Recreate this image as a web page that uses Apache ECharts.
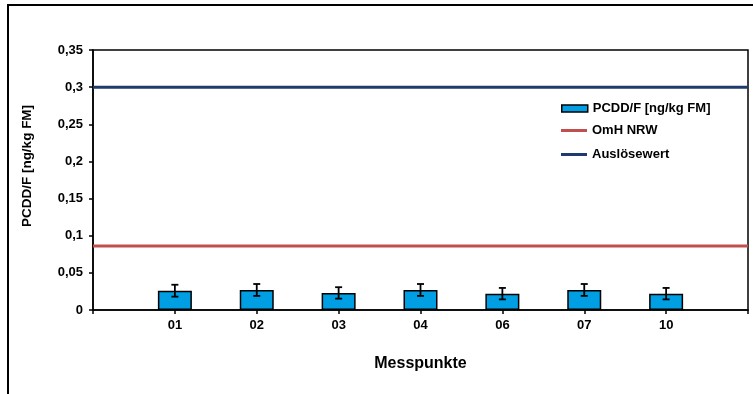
<!DOCTYPE html>
<html><head><meta charset="utf-8">
<script src="https://cdn.jsdelivr.net/npm/echarts@6/dist/echarts.min.js"></script>
<style>html,body{margin:0;padding:0;background:#fff}#c{width:753px;height:394px}</style>
</head><body><div id="c"></div>
<script>
var categories = ['', '01', '02', '03', '04', '06', '07', '10', ''];
var pcddValues = [null, 0.026, 0.027, 0.023, 0.027, 0.022, 0.027, 0.022, null];
var pcddErrors = [null, 0.008, 0.008, 0.0077, 0.008, 0.0077, 0.008, 0.0077, null];
var omhValue = 0.086;
var ausloeseValue = 0.3;
var yTicks = {min: 0, max: 0.35, interval: 0.05};

var omhLine = categories.map(function(){ return omhValue; });
var ausLine = categories.map(function(){ return ausloeseValue; });
var errData = [];
categories.forEach(function(c, i){
  if (pcddValues[i] != null) errData.push([i, pcddValues[i] - pcddErrors[i], pcddValues[i] + pcddErrors[i]]);
});

var FONT = 'Liberation Sans, Arial, sans-serif';
var chart = echarts.init(document.getElementById('c'), null, {renderer: 'canvas'});
var legendText = {color: '#000', fontFamily: FONT, fontWeight: 'bold', fontSize: 13};
chart.setOption({
  animation: false,
  backgroundColor: '#fff',
  graphic: [
    {type: 'rect', shape: {x: 8, y: 5, width: 900, height: 500}, style: {fill: 'none', stroke: '#000', lineWidth: 2}, z: 100},
    {type: 'text', x: 27, y: 166, rotation: Math.PI / 2,
      style: {text: 'PCDD/F [ng/kg FM]', fill: '#000', font: 'bold 13.5px Liberation Sans, Arial, sans-serif', align: 'center', verticalAlign: 'middle'}}
  ],
  grid: {left: 93, top: 50, right: 5, bottom: 84, show: true, borderColor: '#000', borderWidth: 1.5, backgroundColor: 'transparent'},
  legend: [
    {data: [{name: 'PCDD/F [ng/kg FM]', icon: 'rect', itemStyle: {color: '#009FE3', borderColor: '#000', borderWidth: 1.5}}], left: 556, top: 97, itemWidth: 26, itemHeight: 7, textStyle: legendText, selectedMode: false},
    {data: [{name: 'OmH NRW', icon: 'rect'}], left: 556, top: 119, itemWidth: 26, itemHeight: 3, textStyle: legendText, selectedMode: false},
    {data: [{name: 'Auslösewert', icon: 'rect'}], left: 556, top: 143, itemWidth: 26, itemHeight: 3, textStyle: legendText, selectedMode: false}
  ],
  xAxis: {
    type: 'category', data: categories, boundaryGap: false,
    name: 'Messpunkte', nameLocation: 'middle', nameGap: 46,
    nameTextStyle: {color: '#000', fontFamily: FONT, fontWeight: 'bold', fontSize: 16},
    axisLine: {lineStyle: {color: '#000', width: 1.5}},
    axisTick: {show: true, alignWithLabel: true, length: 4, lineStyle: {color: '#000', width: 1.5}},
    axisLabel: {color: '#000', fontFamily: FONT, fontWeight: 'bold', fontSize: 13, margin: 9, interval: 0},
    splitLine: {show: false}
  },
  yAxis: {
    type: 'value', min: yTicks.min, max: yTicks.max, interval: yTicks.interval,
    axisLine: {show: true, lineStyle: {color: '#000', width: 1.5}},
    axisTick: {show: true, inside: false, length: 4, lineStyle: {color: '#000', width: 1.5}},
    axisLabel: {color: '#000', fontFamily: FONT, fontWeight: 'bold', fontSize: 13, margin: 10,
      formatter: function(v){ return String(+v.toFixed(2)).replace('.', ','); }},
    splitLine: {show: false}
  },
  series: [
    {name: 'PCDD/F [ng/kg FM]', type: 'bar', data: pcddValues, barWidth: 34,
      itemStyle: {color: '#009FE3', borderColor: '#000', borderWidth: 1.5}, z: 2},
    {name: 'OmH NRW', type: 'line', data: omhLine, symbol: 'none', lineStyle: {color: '#C0504D', width: 3}, itemStyle: {color: '#C0504D'}, z: 3},
    {name: 'Auslösewert', type: 'line', data: ausLine, symbol: 'none', lineStyle: {color: '#1F3B6E', width: 3}, itemStyle: {color: '#1F3B6E'}, z: 3},
    {name: 'err', type: 'custom', data: errData, z: 5,
      renderItem: function(params, api){
        var x = api.value(0);
        var lo = api.coord([x, api.value(1)]);
        var hi = api.coord([x, api.value(2)]);
        var w = 3.5;
        var st = {stroke: '#000', lineWidth: 1.8};
        return {type: 'group', children: [
          {type: 'line', shape: {x1: lo[0], y1: lo[1], x2: hi[0], y2: hi[1]}, style: st},
          {type: 'line', shape: {x1: lo[0]-w, y1: lo[1], x2: lo[0]+w, y2: lo[1]}, style: st},
          {type: 'line', shape: {x1: hi[0]-w, y1: hi[1], x2: hi[0]+w, y2: hi[1]}, style: st}
        ]};
      }}
  ]
});
</script></body></html>
